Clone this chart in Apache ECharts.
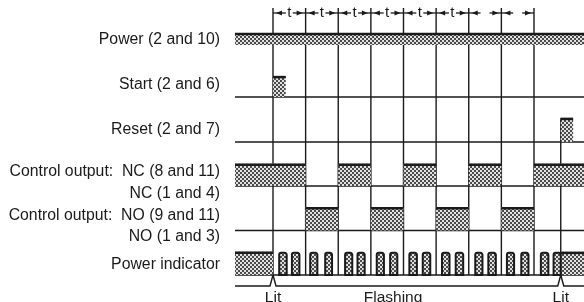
<!DOCTYPE html>
<html>
<head>
<meta charset="utf-8">
<script src="https://cdn.jsdelivr.net/npm/echarts@6/dist/echarts.min.js"></script>
<style>html,body{margin:0;padding:0;background:#fff}#c{width:584px;height:302px}</style>
</head>
<body>
<div id="c"></div>
<script>
// ---------- DATA (time in units of t) ----------
const rowLabels = ['Power (2 and 10)', 'Start (2 and 6)', 'Reset (2 and 7)',
  'Control output:  NC (8 and 11)\nNC (1 and 4)',
  'Control output:  NO (9 and 11)\nNO (1 and 3)', 'Power indicator'];
const rowLabelLevels = [-0.28, 0.73, 1.74, 2.92, 3.90, 4.775];
const rowLow = [-0.17, 1, 2.01, 3, 4, 5];
const rowHigh = [-0.44, 0.53, 1.47, 2.5, 3.48, 4.48];
const timeEdges = [0, 1, 2, 3, 4, 5, 6, 7, 8];
const resetTime = 8.82;
const dimLabels = ['t', 't', 't', 't', 't', 't', '', ''];
const powerOn = [[-1.165, 9.6]];
const startOn = [[0, 0.39]];
const resetOn = [[8.82, 9.2]];
const ncOn = [[-1.165, 1], [2, 3], [4, 5], [6, 7], [8, 9.6]];
const noOn = [[1, 2], [3, 4], [5, 6], [7, 8]];
const indicatorLit = [[-1.165, 0], [8.82, 9.6]];
const indicatorFlash = [[0.19, 0.42], [0.58, 0.81], [1.14, 1.36], [1.6, 1.81], [2.21, 2.43], [2.59, 2.81],
  [3.18, 3.4], [3.59, 3.81], [4.18, 4.41], [4.59, 4.82], [5.18, 5.41], [5.6, 5.83], [6.2, 6.42], [6.6, 6.83],
  [7.17, 7.39], [7.61, 7.83], [8.21, 8.44], [8.6, 8.82]];
const bottomLabels = [['Lit', 0], ['Flashing', 3.68], ['Lit', 8.82]];

// ---------- LAYOUT ----------
const XMIN = -273 / 32.625, XMAX = 311 / 32.625;
const YMIN = -52.5 / 44.5, YMAX = (302 - 52.5) / 44.5;
const LINE_TOP = -1.0, DIM_Y = -0.888, BRACKET_Y = 5.247, BOTTOM_TEXT_Y = 5.52, LABEL_X = -1.625;
const FONT = 'Liberation Sans, Arial, sans-serif';
const INK = '#1a1a1a';

const pc = document.createElement('canvas');
pc.width = 4; pc.height = 4;
const pctx = pc.getContext('2d');
pctx.fillStyle = '#e2e2e2'; pctx.fillRect(0, 0, 4, 4);
pctx.fillStyle = '#4a4a4a'; pctx.fillRect(0, 0, 2, 2); pctx.fillRect(2, 2, 2, 2);
const hatch = { image: pc, repeat: 'repeat' };

// band rows: [x0, x1, low, high]
const bands = [];
[[powerOn, 0], [startOn, 1], [resetOn, 2], [ncOn, 3], [noOn, 4], [indicatorLit, 5]].forEach(([arr, r]) => {
  arr.forEach(s => bands.push([s[0], s[1], rowLow[r], rowHigh[r]]));
});
const flashData = indicatorFlash.map(s => [s[0], s[1], rowLow[5], rowHigh[5]]);
const baseLines = [1, 2, 3, 4, 5].map(r => [-1.165, 9.6, rowLow[r]]);
const vLines = timeEdges.map(t => [t, LINE_TOP, rowLow[5]]).concat([[resetTime, rowHigh[2], rowLow[5]]]);
const dims = dimLabels.map((l, i) => [timeEdges[i], timeEdges[i + 1], DIM_Y, l]);

function rectItem(params, api) {
  const p0 = api.coord([api.value(0), api.value(3)]);
  const p1 = api.coord([api.value(1), api.value(2)]);
  return {
    type: 'group', children: [
      { type: 'rect', shape: { x: p0[0], y: p0[1], width: p1[0] - p0[0], height: p1[1] - p0[1] },
        style: { fill: hatch, stroke: null } },
      { type: 'line', shape: { x1: p0[0], y1: p0[1] + 1, x2: p1[0], y2: p0[1] + 1 },
        style: { stroke: INK, lineWidth: 2.5 } }
    ]
  };
}

const chart = echarts.init(document.getElementById('c'), null, { renderer: 'canvas' });
chart.setOption({
  animation: false,
  backgroundColor: '#fff',
  grid: { left: 0, right: 0, top: 0, bottom: 0 },
  xAxis: { type: 'value', min: XMIN, max: XMAX, show: false },
  yAxis: { type: 'value', min: YMIN, max: YMAX, inverse: true, show: false },
  series: [
    { // vertical time lines
      type: 'custom', z: 1, data: vLines,
      renderItem: (p, api) => {
        const a = api.coord([api.value(0), api.value(1)]);
        const b = api.coord([api.value(0), api.value(2)]);
        return { type: 'line', shape: { x1: a[0], y1: a[1], x2: b[0], y2: b[1] }, style: { stroke: INK, lineWidth: 1.4 } };
      }
    },
    { // baselines
      type: 'custom', z: 2, data: baseLines,
      renderItem: (p, api) => {
        const a = api.coord([api.value(0), api.value(2)]);
        const b = api.coord([api.value(1), api.value(2)]);
        return { type: 'line', shape: { x1: a[0], y1: a[1], x2: b[0], y2: b[1] }, style: { stroke: INK, lineWidth: 1.6 } };
      }
    },
    { type: 'custom', z: 3, data: bands, renderItem: rectItem },
    { // flashing pulses
      type: 'custom', z: 4, data: flashData,
      renderItem: (p, api) => {
        const p0 = api.coord([api.value(0), api.value(3)]);
        const p1 = api.coord([api.value(1), api.value(2)]);
        return { type: 'rect', shape: { x: p0[0], y: p0[1] + 1, width: p1[0] - p0[0], height: p1[1] - p0[1] - 1, r: [2, 2, 0, 0] },
          style: { fill: hatch, stroke: INK, lineWidth: 2 } };
      }
    },
    { // dimension arrows
      type: 'custom', z: 5, data: dims,
      renderItem: (p, api) => {
        const a = api.coord([api.value(0), api.value(2)]);
        const b = api.coord([api.value(1), api.value(2)]);
        const label = dimLabels[p.dataIndex];
        const m = (a[0] + b[0]) / 2, y = a[1];
        const g = label ? 3.5 : 4.5;
        const ch = [
          { type: 'line', shape: { x1: a[0], y1: y, x2: m - g, y2: y }, style: { stroke: INK, lineWidth: 1.3 } },
          { type: 'line', shape: { x1: m + g, y1: y, x2: b[0], y2: y }, style: { stroke: INK, lineWidth: 1.3 } },
          { type: 'polygon', shape: { points: [[a[0] + 3, y], [a[0] + 9, y - 2.4], [a[0] + 9, y + 2.4]] }, style: { fill: INK } },
          { type: 'polygon', shape: { points: [[b[0] - 3, y], [b[0] - 9, y - 2.4], [b[0] - 9, y + 2.4]] }, style: { fill: INK } }
        ];
        if (label) ch.push({ type: 'text', x: m, y: y, style: { text: label, fontSize: 15, fontFamily: FONT, fill: INK, align: 'center', verticalAlign: 'middle' } });
        return { type: 'group', children: ch };
      }
    },
    { // bracket line with carets
      type: 'custom', z: 5, data: [[-1.165, 9.6, BRACKET_Y]],
      renderItem: (p, api) => {
        const a = api.coord([api.value(0), api.value(2)]);
        const b = api.coord([api.value(1), api.value(2)]);
        const c1 = api.coord([0, rowLow[5]]);
        const c2 = api.coord([resetTime, rowLow[5]]);
        const y = a[1];
        return { type: 'polyline', shape: { points: [[a[0], y], [c1[0] - 3, y], [c1[0], c1[1]], [c1[0] + 3, y], [c2[0] - 3, y], [c2[0], c2[1]], [c2[0] + 3, y], [b[0], y]] },
          style: { stroke: INK, lineWidth: 1.4, fill: null } };
      }
    },
    { // row labels
      type: 'custom', z: 6, data: rowLabelLevels.map((v, i) => [LABEL_X, v, i]),
      renderItem: (p, api) => {
        const c = api.coord([api.value(0), api.value(1)]);
        return { type: 'text', x: c[0], y: c[1], style: { text: rowLabels[p.dataIndex], fontSize: 15.8, lineHeight: 21.5, fontFamily: FONT, fill: INK, align: 'right', verticalAlign: 'middle' } };
      }
    },
    { // bottom labels
      type: 'custom', z: 6, data: bottomLabels.map(d => [d[1], BOTTOM_TEXT_Y]),
      renderItem: (p, api) => {
        const c = api.coord([api.value(0), api.value(1)]);
        return { type: 'text', x: c[0], y: c[1], style: { text: bottomLabels[p.dataIndex][0], fontSize: 15.5, fontFamily: FONT, fill: INK, align: 'center', verticalAlign: 'middle' } };
      }
    }
  ]
});
</script>
</body>
</html>
